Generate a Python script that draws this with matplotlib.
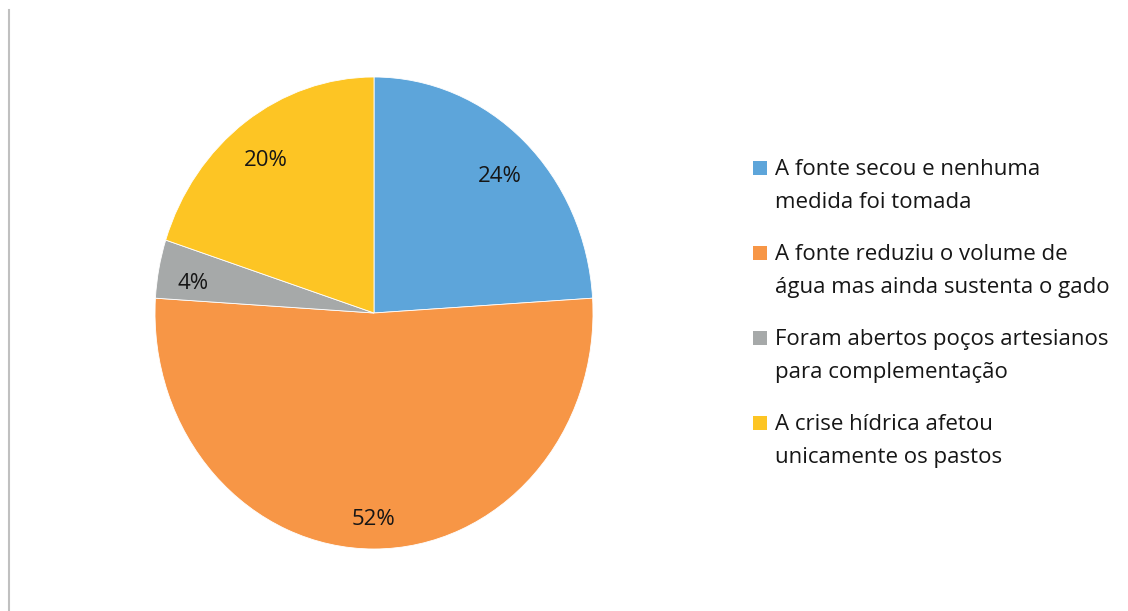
import matplotlib
matplotlib.use("Agg")
import matplotlib.pyplot as plt
import matplotlib.transforms as mtransforms
from matplotlib.patches import Rectangle
from matplotlib.lines import Line2D

plt.rcParams['font.family'] = ['Open Sans', 'DejaVu Sans']

# situação das fontes de água
labels = ['A fonte secou e nenhuma\nmedida foi tomada',
          'A fonte reduziu o volume de\nágua mas ainda sustenta o gado',
          'Foram abertos poços artesianos\npara complementação',
          'A crise hídrica afetou\nunicamente os pastos']
values = [24, 52, 4, 20]
colors = ['#5da5da', '#f79646', '#a6a9a9', '#fdc524']

fig = plt.figure(figsize=(11.28, 6.11), dpi=100)

# pie slightly taller than wide, like the original
ax = fig.add_axes([155/1128, 62/611, 438/1128, 472/611])
wedges, texts, autotexts = ax.pie(values, colors=colors, startangle=90, counterclock=False,
                                  autopct='%d%%', pctdistance=0.84,
                                  wedgeprops=dict(linewidth=0.6, edgecolor='white'),
                                  textprops=dict(fontsize=16, color='#161616'))
ax.set_aspect('auto')
ax.set_xlim(-1, 1)
ax.set_ylim(-1, 1)
# nudge the percentages a little lower
for t in autotexts:
    t.set_transform(mtransforms.offset_copy(ax.transData, fig=fig, x=0, y=-8, units='dots'))

# legend drawn by hand so the marker sits on the first line of each entry
y0 = 1 - 168/611
step = 85/611
for i, lab in enumerate(labels):
    y = y0 - i*step
    fig.patches.append(Rectangle((753/1128, y - 7/611), 14/1128, 14/611,
                                 transform=fig.transFigure, facecolor=colors[i],
                                 edgecolor='none'))
    fig.text(775/1128, y + 9/611, lab, fontsize=16, color='#161616',
             va='top', ha='left', linespacing=1.78)

# thin frame line on the left
fig.add_artist(Line2D([9/1128, 9/1128], [0, 1 - 10/611], transform=fig.transFigure,
                      color='#c0c0c0', linewidth=1.5))

fig.savefig('out.png', dpi=100)
